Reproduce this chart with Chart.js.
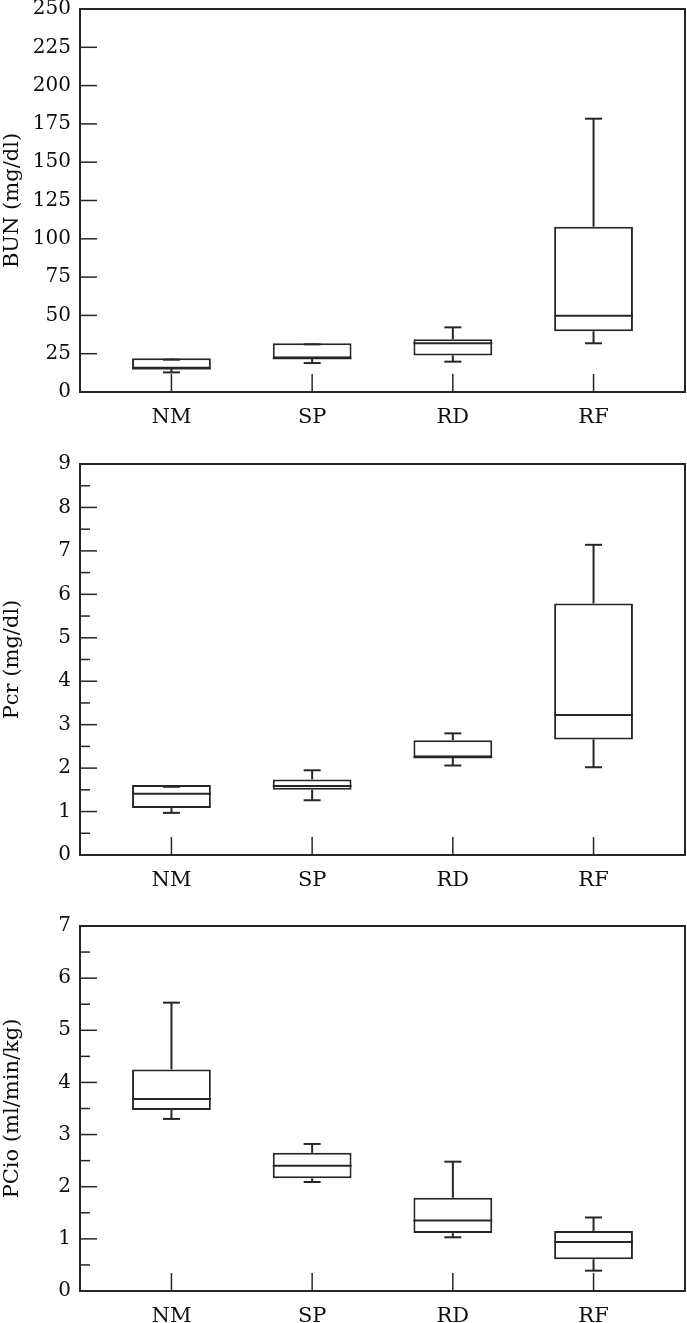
<!DOCTYPE html>
<html>
<head>
<meta charset="utf-8">
<title>BUN / Pcr / PCio</title>
<script src="https://cdn.jsdelivr.net/npm/chart.js@4.4.1/dist/chart.umd.min.js"></script>
<style>
    html, body { margin: 0; padding: 0; background: #ffffff; }
    body { width: 687px; height: 1323px; overflow: hidden; position: relative; }
    canvas { position: absolute; left: 0; }
</style>
</head>
<body>
<canvas id="bunChart" width="687" height="444" style="top:-12px"></canvas>
<canvas id="pcrChart" width="687" height="452" style="top:443px"></canvas>
<canvas id="pcioChart" width="687" height="426" style="top:905px"></canvas>

<script>
// nhóm
var groups = ['NM', 'SP', 'RD', 'RF'];

// BUN (mg/dl)
var bunLow = [12.8, 18.9, 19.8, 31.8];
var bunQ1 = [15.4, 22.0, 23.9, 39.6];
var bunMedian = [15.4, 22.0, 31.8, 49.8];
var bunQ3 = [22.0, 31.8, 34.4, 107.9];
var bunHigh = [21.1, 31.1, 42.2, 178.4];

// Pcr (mg/dl)
var pcrLow = [0.97, 1.26, 2.06, 2.02];
var pcrQ1 = [1.08, 1.50, 2.25, 2.66];
var pcrMedian = [1.41, 1.59, 2.25, 3.22];
var pcrQ3 = [1.61, 1.74, 2.64, 5.79];
var pcrHigh = [1.57, 1.95, 2.80, 7.14];

// PCio (ml/min/kg)
var pcioLow = [3.30, 2.09, 1.03, 0.39];
var pcioQ1 = [3.47, 2.16, 1.11, 0.61];
var pcioMedian = [3.68, 2.40, 1.35, 0.94];
var pcioQ3 = [4.25, 2.65, 1.79, 1.15];
var pcioHigh = [5.53, 2.82, 2.48, 1.41];

// trục y: max, bước chính, bước phụ
var bunAxis = [250, 25, 0];
var pcrAxis = [9, 1, 0.5];
var pcioAxis = [7, 1, 0.5];

var INK = '#262626';
var TEXT = '#0d0d0d';
var FONT = 'DejaVu Serif';

// vẽ râu, trung vị, vạch chia hướng vào trong và khung
var boxWhiskerPlugin = {
    id: 'boxWhisker',
    afterDatasetsDraw: function(chart) {
        var o = chart.options.plugins.boxWhisker;
        var ctx = chart.ctx;
        var xs = chart.scales.x, ys = chart.scales.y;
        var area = chart.chartArea;
        var bars = chart.getDatasetMeta(0).data;
        var cap = 8.5;

        ctx.save();
        ctx.strokeStyle = INK;
        ctx.lineWidth = 2;
        ctx.lineCap = 'butt';

        function line(x1, y1, x2, y2) {
            ctx.beginPath();
            ctx.moveTo(x1, y1);
            ctx.lineTo(x2, y2);
            ctx.stroke();
        }

        for (var i = 0; i < groups.length; i++) {
            var cx = xs.getPixelForValue(i);
            var half = bars[i].width / 2;
            // trung vị
            line(cx - half, ys.getPixelForValue(o.median[i]), cx + half, ys.getPixelForValue(o.median[i]));
            // râu trên
            line(cx, ys.getPixelForValue(o.q3[i]), cx, ys.getPixelForValue(o.high[i]));
            line(cx - cap, ys.getPixelForValue(o.high[i]), cx + cap, ys.getPixelForValue(o.high[i]));
            // râu dưới
            line(cx, ys.getPixelForValue(o.q1[i]), cx, ys.getPixelForValue(o.low[i]));
            line(cx - cap, ys.getPixelForValue(o.low[i]), cx + cap, ys.getPixelForValue(o.low[i]));
            // vạch chia trục x
            ctx.lineWidth = 1.5;
            line(cx, area.bottom, cx, area.bottom - 18);
            ctx.lineWidth = 2;
        }

        // vạch chia trục y
        ctx.lineWidth = 1.5;
        ys.ticks.forEach(function(t) {
            var py = ys.getPixelForValue(t.value);
            line(area.left, py, area.left + 17, py);
        });
        if (o.minor) {
            for (var v = o.minor; v < ys.max; v += o.minor * 2) {
                var my = ys.getPixelForValue(v);
                line(area.left, my, area.left + 10, my);
            }
        }

        // khung
        ctx.lineWidth = 2;
        ctx.strokeRect(area.left, area.top, area.right - area.left, area.bottom - area.top);
        ctx.restore();
    }
};

function makeBoxChart(canvasId, title, low, q1, median, q3, high, axis) {
    var el = document.getElementById(canvasId);
    var boxes = groups.map(function(g, i) {
        return { x: i, y: [q1[i], q3[i]] };
    });

    return new Chart(el.getContext('2d'), {
        type: 'bar',
        data: {
            datasets: [{
                data: boxes,
                backgroundColor: '#ffffff',
                borderColor: INK,
                borderWidth: 2,
                borderSkipped: false,
                barPercentage: 0.56,
                categoryPercentage: 1
            }]
        },
        options: {
            responsive: false,
            animation: false,
            layout: { padding: { top: 14, right: 2, left: 0, bottom: 0 } },
            scales: {
                x: {
                    type: 'linear',
                    min: -0.65,
                    max: 3.65,
                    offset: false,
                    grid: { display: false },
                    border: { display: false },
                    afterBuildTicks: function(scale) {
                        scale.ticks = groups.map(function(g, i) { return { value: i }; });
                    },
                    afterFit: function(scale) { scale.height = 40; },
                    ticks: {
                        color: TEXT,
                        font: { family: FONT, size: 21 },
                        padding: 5,
                        maxRotation: 0,
                        callback: function(v) { return groups[v]; }
                    }
                },
                y: {
                    min: 0,
                    max: axis[0],
                    grid: { display: false, drawTicks: false },
                    border: { display: false },
                    afterFit: function(scale) { scale.width = 80; },
                    ticks: {
                        stepSize: axis[1],
                        color: TEXT,
                        font: { family: FONT, size: 20 },
                        padding: 9
                    },
                    title: {
                        display: true,
                        text: title,
                        color: TEXT,
                        font: { family: FONT, size: 21 },
                        padding: { top: 0, bottom: 0 }
                    }
                }
            },
            plugins: {
                legend: { display: false },
                tooltip: { enabled: false },
                boxWhisker: { low: low, q1: q1, median: median, q3: q3, high: high, minor: axis[2] }
            }
        },
        plugins: [boxWhiskerPlugin]
    });
}

makeBoxChart('bunChart', 'BUN (mg/dl)', bunLow, bunQ1, bunMedian, bunQ3, bunHigh, bunAxis);
makeBoxChart('pcrChart', 'Pcr (mg/dl)', pcrLow, pcrQ1, pcrMedian, pcrQ3, pcrHigh, pcrAxis);
makeBoxChart('pcioChart', 'PCio (ml/min/kg)', pcioLow, pcioQ1, pcioMedian, pcioQ3, pcioHigh, pcioAxis);
</script>
</body>
</html>
